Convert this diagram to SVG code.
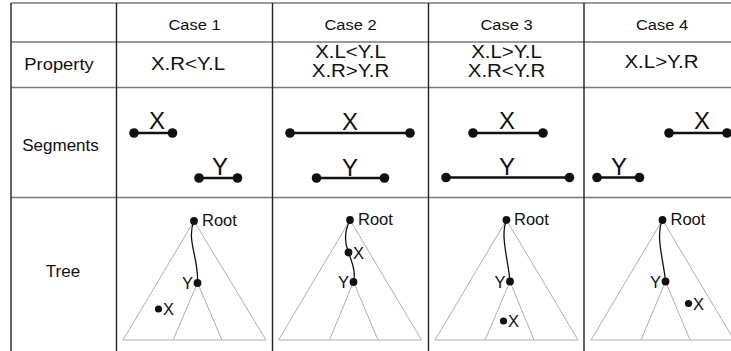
<svg xmlns="http://www.w3.org/2000/svg" width="731" height="351" viewBox="0 0 731 351">
  <style>
    text { font-family: "Liberation Sans", Arial, sans-serif; fill: #111; }
    .hdr { font-size: 15.5px; text-anchor: middle; }
    .row { font-size: 17px; text-anchor: middle; }
    .prop { font-size: 17.5px; text-anchor: middle; }
    .seg { font-size: 24px; text-anchor: middle; }
    .lbl { font-size: 16.5px; }
    .end { text-anchor: end; }
    .hline { stroke: #7a7a7a; stroke-width: 1.6; fill: none; }
    .vline { stroke: #222; stroke-width: 1.4; fill: none; }
    .bar { stroke: #111; stroke-width: 2.6; fill: none; }
    .sdot { fill: #111; }
    .tri { stroke: #b0b0b0; stroke-width: 1; fill: none; }
    .path { stroke: #111; stroke-width: 1.3; fill: none; }
    .tdot { fill: #111; }
  </style>

  <!-- table grid -->
  <g id="grid">
    <line class="hline" x1="11" y1="3" x2="731" y2="3"/>
    <line class="hline" x1="11" y1="42" x2="731" y2="42"/>
    <line class="hline" x1="11" y1="87.5" x2="731" y2="87.5"/>
    <line class="hline" x1="11" y1="197.5" x2="731" y2="197.5"/>
    <line class="vline" x1="11" y1="3" x2="11" y2="351"/>
    <line class="vline" x1="116.5" y1="3" x2="116.5" y2="351"/>
    <line class="vline" x1="272.5" y1="3" x2="272.5" y2="351"/>
    <line class="vline" x1="428.5" y1="3" x2="428.5" y2="351"/>
    <line class="vline" x1="584" y1="3" x2="584" y2="351"/>
  </g>

  <!-- row headings -->
  <g id="row-labels">
    <text class="row" transform="translate(59,70) scale(1.08,1)">Property</text>
    <text class="row" x="60.5" y="151">Segments</text>
    <text class="row" x="63" y="277">Tree</text>
  </g>

  <!-- column headings -->
  <g id="col-labels">
    <text class="hdr" transform="translate(194.5,30) scale(1.06,1)">Case 1</text>
    <text class="hdr" transform="translate(350.5,30) scale(1.06,1)">Case 2</text>
    <text class="hdr" transform="translate(506.5,30) scale(1.06,1)">Case 3</text>
    <text class="hdr" transform="translate(662,30) scale(1.06,1)">Case 4</text>
  </g>

  <!-- property row -->
  <g id="properties">
    <text class="prop" transform="translate(188,70) scale(1.17,1)">X.R&lt;Y.L</text>
    <text class="prop" transform="translate(350.5,58) scale(1.17,1)">X.L&lt;Y.L</text>
    <text class="prop" transform="translate(350.5,77) scale(1.17,1)">X.R&gt;Y.R</text>
    <text class="prop" transform="translate(506.5,58) scale(1.17,1)">X.L&gt;Y.L</text>
    <text class="prop" transform="translate(506.5,77) scale(1.17,1)">X.R&lt;Y.R</text>
    <text class="prop" transform="translate(661.5,68) scale(1.17,1)">X.L&gt;Y.R</text>
  </g>

  <!-- segments row -->
  <g id="seg-case1">
    <line class="bar" x1="134" y1="133" x2="172.5" y2="133"/>
    <circle class="sdot" cx="134" cy="133" r="4.8"/>
    <circle class="sdot" cx="172.5" cy="133" r="4.8"/>
    <text class="seg" x="157" y="129">X</text>
    <line class="bar" x1="199" y1="178" x2="237.5" y2="178"/>
    <circle class="sdot" cx="199" cy="178" r="4.8"/>
    <circle class="sdot" cx="237.5" cy="178" r="4.8"/>
    <text class="seg" x="220" y="175">Y</text>
  </g>
  <g id="seg-case2">
    <line class="bar" x1="290" y1="133" x2="410" y2="133"/>
    <circle class="sdot" cx="290" cy="133" r="4.8"/>
    <circle class="sdot" cx="410" cy="133" r="4.8"/>
    <text class="seg" x="350" y="130">X</text>
    <line class="bar" x1="316.5" y1="178" x2="384.5" y2="178"/>
    <circle class="sdot" cx="316.5" cy="178" r="4.8"/>
    <circle class="sdot" cx="384.5" cy="178" r="4.8"/>
    <text class="seg" x="350" y="176">Y</text>
  </g>
  <g id="seg-case3">
    <line class="bar" x1="473" y1="133" x2="543" y2="133"/>
    <circle class="sdot" cx="473" cy="133" r="4.8"/>
    <circle class="sdot" cx="543" cy="133" r="4.8"/>
    <text class="seg" x="507" y="129">X</text>
    <line class="bar" x1="446" y1="177.5" x2="569.5" y2="177.5"/>
    <circle class="sdot" cx="446" cy="177.5" r="4.8"/>
    <circle class="sdot" cx="569.5" cy="177.5" r="4.8"/>
    <text class="seg" x="507" y="175">Y</text>
  </g>
  <g id="seg-case4">
    <line class="bar" x1="669" y1="133" x2="727" y2="133"/>
    <circle class="sdot" cx="669" cy="133" r="4.8"/>
    <circle class="sdot" cx="727" cy="133" r="4.8"/>
    <text class="seg" x="702" y="129">X</text>
    <line class="bar" x1="597" y1="177.5" x2="639.5" y2="177.5"/>
    <circle class="sdot" cx="597" cy="177.5" r="4.8"/>
    <circle class="sdot" cx="639.5" cy="177.5" r="4.8"/>
    <text class="seg" x="619" y="175">Y</text>
  </g>

  <!-- tree row -->
  <g id="tree-case1">
    <polygon class="tri" points="194,221 123,340 266,340"/>
    <polyline class="tri" points="173,340 197.5,283 222,340"/>
    <path class="path" d="M194,221 C186,240 199,258 197.5,283"/>
    <circle class="tdot" cx="194" cy="221" r="3.9"/>
    <circle class="tdot" cx="197.5" cy="283" r="3.9"/>
    <circle class="tdot" cx="158.5" cy="309" r="3.6"/>
    <text class="lbl" x="202" y="226">Root</text>
    <text class="lbl end" x="193" y="289">Y</text>
    <text class="lbl" x="163" y="315">X</text>
  </g>
  <g id="tree-case2">
    <polygon class="tri" points="350,220 278.5,340 421.5,340"/>
    <polyline class="tri" points="329.5,340 353.5,282 378,340"/>
    <path class="path" d="M350,220 C344,232 345,244 348.5,252.5 C352,262 356,272 353.5,282"/>
    <circle class="tdot" cx="350" cy="220" r="3.9"/>
    <circle class="tdot" cx="348.5" cy="252.5" r="3.9"/>
    <circle class="tdot" cx="353.5" cy="282" r="3.9"/>
    <text class="lbl" x="358" y="225">Root</text>
    <text class="lbl" x="353" y="259">X</text>
    <text class="lbl end" x="349" y="288">Y</text>
  </g>
  <g id="tree-case3">
    <polygon class="tri" points="506.5,220 435,340 578,340"/>
    <polyline class="tri" points="485,340 510,281.5 534,340"/>
    <path class="path" d="M506.5,220 C500,236 508,258 510,281.5"/>
    <circle class="tdot" cx="506.5" cy="220" r="3.9"/>
    <circle class="tdot" cx="510" cy="281.5" r="3.9"/>
    <circle class="tdot" cx="503.5" cy="321" r="3.6"/>
    <text class="lbl" x="514" y="225">Root</text>
    <text class="lbl end" x="505.5" y="287.5">Y</text>
    <text class="lbl" x="508" y="327">X</text>
  </g>
  <g id="tree-case4">
    <polygon class="tri" points="662.5,220 591,340 734,340"/>
    <polyline class="tri" points="641,340 665.5,281.5 690,340"/>
    <path class="path" d="M662.5,220 C655,236 664,262 665.5,281.5"/>
    <circle class="tdot" cx="662.5" cy="220" r="3.9"/>
    <circle class="tdot" cx="665.5" cy="281.5" r="3.9"/>
    <circle class="tdot" cx="688.5" cy="303.5" r="3.6"/>
    <text class="lbl" x="670.5" y="225">Root</text>
    <text class="lbl end" x="661" y="287.5">Y</text>
    <text class="lbl" x="693" y="309.5">X</text>
  </g>
</svg>
